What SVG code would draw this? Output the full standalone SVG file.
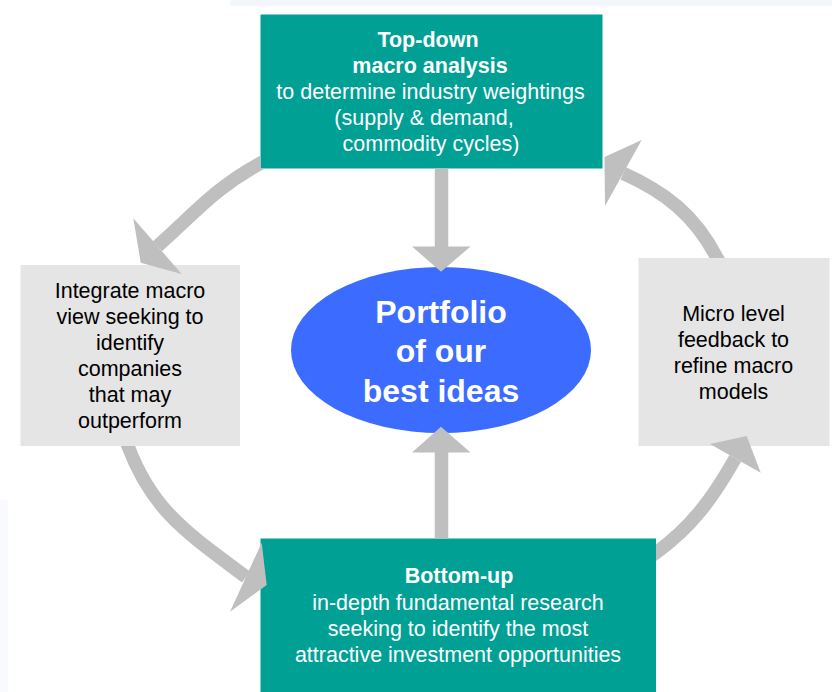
<svg xmlns="http://www.w3.org/2000/svg" width="832" height="692" viewBox="0 0 832 692">
  <style>
    .teal { fill: #00a095; }
    .grey { fill: #e5e5e5; }
    .oval { fill: #3b6bff; }
    .shaft { fill: none; stroke: #bfbfbf; stroke-width: 13.5; }
    .head { fill: #bfbfbf; }
    text { font-family: "Liberation Sans", Arial, sans-serif; text-anchor: middle; }
    .w { fill: #ffffff; font-size: 21.5px; }
    .k { fill: #000000; font-size: 21.5px; }
    .b { font-weight: bold; }
    .big { fill: #ffffff; font-size: 32px; font-weight: bold; }
  </style>
  <defs>
    <!-- keeps arc shafts from showing over the boxes they start behind -->
    <clipPath id="outside-boxes">
      <path clip-rule="evenodd" d="M0,0H832V692H0Z M260.5,14.5H602.5V168.5H260.5Z M260.5,538.5H656V700H260.5Z M20.5,265H240V446H20.5Z M638.5,258H830V446H638.5Z"/>
    </clipPath>
  </defs>

  <rect width="832" height="692" fill="#ffffff"/>
  <rect x="230" y="0" width="602" height="6" fill="#f3f6fb"/>
  <rect x="0" y="500" width="8" height="192" fill="#f8fafd"/>

  <g id="top-down">
    <rect class="teal" x="260.5" y="14.5" width="342" height="154"/>
    <text class="w b" x="428" y="47">Top-down</text>
    <text class="w b" x="430" y="73">macro analysis</text>
    <text class="w" x="430.5" y="99">to determine industry weightings</text>
    <text class="w" x="424" y="125">(supply &amp; demand,</text>
    <text class="w" x="431" y="151">commodity cycles)</text>
  </g>

  <g id="integrate-macro">
    <rect class="grey" x="20.5" y="265" width="219.5" height="181"/>
    <text class="k" x="130" y="297.5">Integrate macro</text>
    <text class="k" x="130" y="323.6">view seeking to</text>
    <text class="k" x="130" y="349.7">identify</text>
    <text class="k" x="130" y="375.8">companies</text>
    <text class="k" x="130" y="401.9">that may</text>
    <text class="k" x="130" y="428">outperform</text>
  </g>

  <g id="micro-feedback">
    <rect class="grey" x="638.5" y="258" width="191" height="188"/>
    <text class="k" x="733.5" y="320.5">Micro level</text>
    <text class="k" x="733.5" y="346.5">feedback to</text>
    <text class="k" x="733.5" y="372.5">refine macro</text>
    <text class="k" x="733.5" y="398.5">models</text>
  </g>

  <g id="portfolio">
    <ellipse class="oval" cx="441" cy="350" rx="150" ry="83"/>
    <text class="big" x="441" y="322.7">Portfolio</text>
    <text class="big" x="441" y="361.7">of our</text>
    <text class="big" x="441" y="401.7">best ideas</text>
  </g>

  <g id="bottom-up">
    <rect class="teal" x="260.5" y="538.5" width="395.5" height="160"/>
    <text class="w b" x="459" y="583.3">Bottom-up</text>
    <text class="w" x="458" y="610">in-depth fundamental research</text>
    <text class="w" x="458" y="636">seeking to identify the most</text>
    <text class="w" x="458" y="661.7">attractive investment opportunities</text>
  </g>

  <g id="connectors">
    <g clip-path="url(#outside-boxes)">
      <!-- top-down to integrate-macro -->
      <path class="shaft" d="M300,142 L260,163.5 C214,189 197,211 157.5,246.2"/>
      <!-- integrate-macro to bottom-up -->
      <path class="shaft" d="M119,422 L128,446 C152.5,511.8 190,535 246,577"/>
      <!-- bottom-up to micro-feedback -->
      <path class="shaft" d="M630,571 L655,553.5 C691.5,527.4 713.2,497.5 735.3,458.3"/>
      <!-- micro-feedback to top-down -->
      <path class="shaft" d="M730,280 L717,258 C695,215 665,192 623.3,173.3"/>
      <!-- vertical feeds into the portfolio -->
      <path class="shaft" d="M441.5,168 V248"/>
      <path class="shaft" d="M441.5,539 V451"/>
    </g>
    <polygon class="head" points="133.3,218.3 140.7,262.7 181.7,274"/>
    <polygon class="head" points="261.7,542.7 266.7,585 230,611.7"/>
    <polygon class="head" points="710,444 746.7,436 760.7,472.7"/>
    <polygon class="head" points="641.7,140 604.5,157 605,206"/>
    <polygon class="head" points="412,246.5 470.5,246.5 441,271.7"/>
    <polygon class="head" points="412,452.5 470.5,452.5 441,426.7"/>
  </g>
</svg>
